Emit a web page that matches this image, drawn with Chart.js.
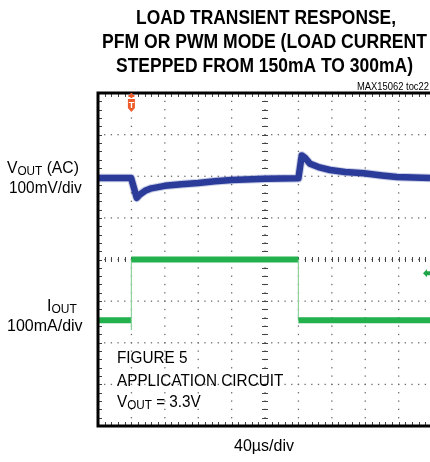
<!DOCTYPE html>
<html>
<head>
<meta charset="utf-8">
<script src="https://cdn.jsdelivr.net/npm/chart.js@4"></script>
<style>
  html, body { margin: 0; padding: 0; background: #fff; }
  canvas { display: block; }
</style>
</head>
<body>
<canvas id="scope" width="430" height="462"></canvas>
<script>
// time axis in divisions (40us/div), levels in divisions
const vTime = [0, 0.99, 1.16, 1.25, 1.41, 1.6, 2.0, 2.5, 3.0, 3.5, 4.0, 5.0, 6.0, 6.1, 6.2, 6.35, 6.6, 6.95, 7.4, 7.96, 8.5, 8.95, 9.94];
const vOut = [1.96, 1.96, 1.48, 1.56, 1.65, 1.71, 1.77, 1.81, 1.84, 1.88, 1.91, 1.94, 1.95, 2.5, 2.44, 2.3, 2.22, 2.15, 2.1, 2.07, 2.02, 1.98, 1.96];

const iTime = [0, 1.0, 1.0, 1.0, 6.0, 6.0, 9.94];
const iOut = [-1.46, -1.46, -1.7, 0, 0, -1.46, -1.46];

const trigTime = 1.0;
const iGround = -0.33;

const titleLines = ["LOAD TRANSIENT RESPONSE,", "PFM OR PWM MODE (LOAD CURRENT", "STEPPED FROM 150mA TO 300mA)"];
const FONT = '"Liberation Sans", Arial, sans-serif';

const vPts = vTime.map((t, i) => ({ x: t, y: vOut[i] }));
const iPts = iTime.map((t, i) => ({ x: t, y: iOut[i] }));

function rich(ctx, parts, x, y, sx, align) {
  let w = 0;
  parts.forEach((p) => {
    ctx.font = p[1] + "px " + FONT;
    w += ctx.measureText(p[0]).width;
  });
  w *= sx;
  let start = align === "center" ? x - w / 2 : align === "right" ? x - w : x;
  ctx.save();
  ctx.translate(start, y);
  ctx.scale(sx, 1);
  ctx.textAlign = "left";
  ctx.textBaseline = "alphabetic";
  let cx = 0;
  parts.forEach((p) => {
    ctx.font = p[1] + "px " + FONT;
    ctx.fillText(p[0], cx, p[2] || 0);
    cx += ctx.measureText(p[0]).width;
  });
  ctx.restore();
}

// scope grid, ticks, frame, markers and labels
const scopePlugin = {
  id: "scope",
  beforeDatasetsDraw(chart) {
    const ctx = chart.ctx;
    const xs = chart.scales.x, ys = chart.scales.y;
    const a = chart.chartArea;
    ctx.save();
    ctx.fillStyle = "#6a6a6a";
    // dotted major lines
    for (let d = 1; d <= 9; d++) {
      let px = xs.getPixelForValue(d);
      for (let m = -4; m <= 4; m += 0.2) {
        ctx.fillRect(px - 0.6, ys.getPixelForValue(m) - 0.6, 1.3, 1.3);
      }
    }
    for (let d = -3; d <= 3; d++) {
      let py = ys.getPixelForValue(d);
      for (let m = 0; m <= 9.95; m += 0.2) {
        ctx.fillRect(xs.getPixelForValue(m) - 0.6, py - 0.6, 1.3, 1.3);
      }
    }
    // minor ticks on the centre axes and the frame
    ctx.strokeStyle = "#444";
    ctx.lineWidth = 1;
    ctx.beginPath();
    let cy = ys.getPixelForValue(0), cxp = xs.getPixelForValue(5);
    for (let m = 0; m <= 9.95; m += 0.2) {
      let px = Math.round(xs.getPixelForValue(m)) + 0.5;
      ctx.moveTo(px, cy - 2.5); ctx.lineTo(px, cy + 2.5);
      ctx.moveTo(px, a.top); ctx.lineTo(px, a.top + 4);
      ctx.moveTo(px, a.bottom); ctx.lineTo(px, a.bottom - 4);
    }
    for (let m = -4; m <= 4; m += 0.2) {
      let py = Math.round(ys.getPixelForValue(m)) + 0.5;
      ctx.moveTo(cxp - 3, py); ctx.lineTo(cxp + 3, py);
      ctx.moveTo(a.left, py); ctx.lineTo(a.left + 4, py);
    }
    ctx.stroke();
    ctx.restore();
  },
  afterDraw(chart) {
    const ctx = chart.ctx;
    const xs = chart.scales.x, ys = chart.scales.y;
    const a = chart.chartArea;
    ctx.save();

    // frame
    ctx.strokeStyle = "#000";
    ctx.lineWidth = 3;
    ctx.strokeRect(a.left, a.top, a.right - a.left + 4, a.bottom - a.top);

    // trigger marker
    let tx = xs.getPixelForValue(trigTime);
    ctx.fillStyle = "#ee5a2a";
    ctx.fillRect(tx - 1, a.top, 2, 5);
    ctx.fillRect(tx - 3, a.top + 2, 6, 2);
    ctx.beginPath();
    ctx.moveTo(tx - 3.5, a.top + 6);
    ctx.lineTo(tx + 3.5, a.top + 6);
    ctx.lineTo(tx + 3.5, a.top + 15);
    ctx.lineTo(tx, a.top + 19);
    ctx.lineTo(tx - 3.5, a.top + 15);
    ctx.closePath();
    ctx.fill();
    ctx.fillStyle = "#fff";
    ctx.font = "bold 9px " + FONT;
    ctx.textAlign = "center";
    ctx.fillText("T", tx, a.top + 15);

    // channel 2 ground marker
    let gy = ys.getPixelForValue(iGround);
    ctx.fillStyle = "#1fa548";
    ctx.beginPath();
    ctx.moveTo(423, gy);
    ctx.lineTo(427, gy - 4);
    ctx.lineTo(427, gy - 2);
    ctx.lineTo(430, gy - 2);
    ctx.lineTo(430, gy + 2);
    ctx.lineTo(427, gy + 2);
    ctx.lineTo(427, gy + 4);
    ctx.closePath();
    ctx.fill();

    // title
    ctx.fillStyle = "#000";
    ctx.textAlign = "center";
    ctx.textBaseline = "alphabetic";
    ctx.font = "bold 20.5px " + FONT;
    ctx.fillText(titleLines[0], 266, 24, 260);
    ctx.fillText(titleLines[1], 264.5, 48, 325);
    ctx.fillText(titleLines[2], 264.5, 72, 297);

    ctx.textAlign = "right";
    ctx.font = "10px " + FONT;
    ctx.fillText("MAX15062 toc22", 429, 90, 72);

    // channel labels
    rich(ctx, [["V", 16], ["OUT", 12, 2], [" (AC)", 16]], 7, 173, 0.98, "left");
    rich(ctx, [["100mV/div", 16]], 9, 193, 0.96, "left");
    rich(ctx, [["I", 16], ["OUT", 12, 2]], 47, 311, 1, "left");
    rich(ctx, [["100mA/div", 16]], 7, 331, 1, "left");

    // notes inside the screen
    rich(ctx, [["FIGURE 5", 17]], 117, 363, 0.9, "left");
    rich(ctx, [["APPLICATION CIRCUIT", 17]], 117, 385.5, 0.9, "left");
    rich(ctx, [["V", 17], ["OUT", 13, 2.5], [" = 3.3V", 17]], 117, 406.5, 0.9, "left");

    rich(ctx, [["40µs/div", 16]], 264, 451, 1, "center");
    ctx.restore();
  }
};

const vertical = (c) => c.p0.parsed.x === c.p1.parsed.x;

new Chart(document.getElementById("scope"), {
  type: "scatter",
  data: {
    datasets: [
      {
        data: vPts,
        showLine: true,
        borderColor: "rgba(45,60,155,0.25)",
        borderWidth: 8.5,
        borderJoinStyle: "round",
        pointRadius: 0,
      },
      {
        data: vPts,
        showLine: true,
        borderColor: "#2b3b98",
        borderWidth: 6.5,
        borderJoinStyle: "round",
        pointRadius: 0,
      },
      {
        data: iPts,
        showLine: true,
        borderColor: "#22b14c",
        borderWidth: 6,
        pointRadius: 0,
        segment: {
          borderWidth: (c) => (vertical(c) ? 1.2 : 6),
          borderColor: (c) => (vertical(c) ? "#8dd39d" : "#22b14c"),
        },
      },
    ],
  },
  options: {
    responsive: false,
    animation: false,
    events: [],
    layout: { padding: { left: 98, top: 93, right: 0, bottom: 36 } },
    plugins: { legend: { display: false }, tooltip: { enabled: false } },
    scales: {
      x: { type: "linear", min: 0, max: 9.94, display: false },
      y: { min: -4, max: 4, display: false },
    },
  },
  plugins: [scopePlugin],
});
</script>
</body>
</html>
